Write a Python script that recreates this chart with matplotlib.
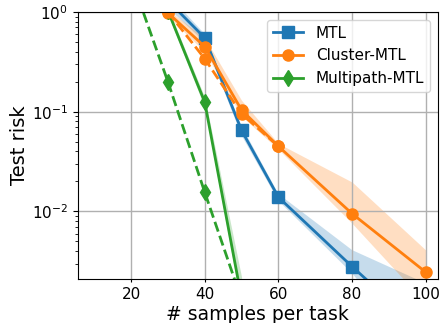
import numpy as np
import matplotlib
matplotlib.use("Agg")
import matplotlib.pyplot as plt

# samples per task
n_samples = [30, 40, 50, 60, 80, 100]

# MTL
mtl = [1.3, 0.55, 0.065, 0.0139, 0.0028, 0.0006]
mtl_lo = [1.1, 0.50, 0.058, 0.0128, 0.0024, 0.0003]
mtl_hi = [1.5, 0.60, 0.072, 0.0150, 0.0041, 0.0019]

# Cluster-MTL
cluster = [0.98, 0.45, 0.104, 0.045, 0.0095, 0.00246]
cluster_lo = [0.90, 0.40, 0.090, 0.042, 0.0076, 0.0012]
cluster_hi = [1.05, 0.55, 0.130, 0.048, 0.0197, 0.0041]
cluster_dash_x = [30, 40, 50, 60]
cluster_dash = [1.0, 0.34, 0.095, 0.045]

# Multipath-MTL
multi_x = [30, 40, 50]
multi = [1.03, 0.125, 0.00135]
multi_lo = [0.95, 0.11, 0.0011]
multi_hi = [1.10, 0.14, 0.0022]
multi_dash_x = [20, 30, 40, 50]
multi_dash = [2.2, 0.2, 0.0156, 0.0013]

blue, orange, green = "#1f77b4", "#ff7f0e", "#2ca02c"

fig = plt.figure(figsize=(4.46, 3.23), dpi=100)
ax = fig.add_axes([0.174, 0.136, 0.808, 0.827])

ax.fill_between(n_samples, mtl_lo, mtl_hi, color=blue, alpha=0.25, lw=0)
ax.fill_between(n_samples, cluster_lo, cluster_hi, color=orange, alpha=0.25, lw=0)
ax.fill_between(multi_x, multi_lo, multi_hi, color=green, alpha=0.25, lw=0)

ax.plot(n_samples, mtl, "-s", color=blue, lw=2, ms=8, label="MTL")
ax.plot(n_samples, cluster, "-o", color=orange, lw=2, ms=8, label="Cluster-MTL")
ax.plot(multi_x, multi, "-d", color=green, lw=2, ms=8, label="Multipath-MTL")
ax.plot(cluster_dash_x, cluster_dash, "--o", color=orange, lw=2, ms=8)
ax.plot(multi_dash_x, multi_dash, "--d", color=green, lw=2, ms=8)

ax.set_yscale("log")
ax.set_xlim(5.5, 103.3)
ax.set_ylim(0.0021, 1)
ax.set_xticks([20, 40, 60, 80, 100])
ax.grid(True, which="major", color="#b0b0b0", lw=1)
ax.tick_params(labelsize=11)
ax.tick_params(axis="x", length=2, pad=4)
ax.set_xlabel("# samples per task", fontsize=13.5, labelpad=2)
ax.set_ylabel("Test risk", fontsize=14, labelpad=2)
ax.legend(loc="upper right", fontsize=11)

fig.savefig("out.png", dpi=100)
